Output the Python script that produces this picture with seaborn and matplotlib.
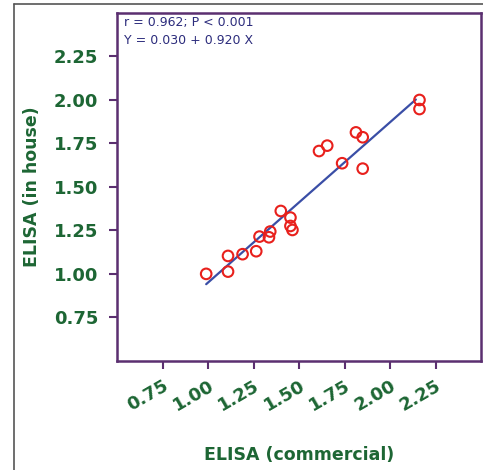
import numpy as np
import pandas as pd
import matplotlib
matplotlib.use("Agg")
import matplotlib.pyplot as plt
from matplotlib.lines import Line2D
import seaborn as sns

# Data
commercial = [0.99, 1.11, 1.11, 1.19, 1.265, 1.283, 1.335, 1.342, 1.40, 1.453,
              1.453, 1.464, 1.61, 1.655, 1.737, 1.813, 1.85, 1.85, 2.162, 2.162]
in_house = [1.00, 1.103, 1.013, 1.113, 1.13, 1.214, 1.21, 1.243, 1.361, 1.323,
            1.275, 1.252, 1.705, 1.736, 1.635, 1.812, 1.784, 1.604, 1.998, 1.946]
intercept = 0.030
slope = 0.920
ticks = [0.75, 1.00, 1.25, 1.50, 1.75, 2.00, 2.25]
tick_labels = ["0.75", "1.00", "1.25", "1.50", "1.75", "2.00", "2.25"]
stats_text = ["r = 0.962; P < 0.001", "Y = 0.030 + 0.920 X"]

sns.set_theme(style="white")
plt.rcParams['font.family'] = ['DejaVu Sans']

GREEN = "#1d6634"
PURPLE = "#5b2f70"
NAVY = "#2c2c7c"
RED = "#e8201c"
BLUE = "#3a4ea6"

df = pd.DataFrame({"commercial": commercial, "in_house": in_house})
xs = np.array([min(commercial), max(commercial) - 0.02])
line_df = pd.DataFrame({"x": xs, "y": intercept + slope * xs})

fig = plt.figure(figsize=(4.83, 4.70), dpi=100)
ax = fig.add_axes([117/483, 1 - 361/470, 364/483, 348.5/470])

sns.lineplot(data=line_df, x="x", y="y", ax=ax, color=BLUE, linewidth=1.6)
sns.scatterplot(data=df, x="commercial", y="in_house", ax=ax, marker="o", s=58,
                facecolor="none", edgecolor=RED, linewidth=1.5, zorder=3)

ax.set_xlim(0.5, 2.5)
ax.set_ylim(0.5, 2.5)
ax.set_xticks(ticks)
ax.set_yticks(ticks)
ax.set_xticklabels(tick_labels, rotation=30, ha="right", rotation_mode="anchor",
                   color=GREEN, fontsize=13, fontweight="bold")
ax.set_yticklabels(tick_labels, color=GREEN, fontsize=13, fontweight="bold")
ax.tick_params(axis="both", direction="out", length=5.5, width=1.5, color=PURPLE,
               bottom=True, left=True)
ax.tick_params(axis="y", pad=8)
ax.tick_params(axis="x", pad=6)
for sp in ax.spines.values():
    sp.set_color(PURPLE)
    sp.set_linewidth(1.8)

ax.set_xlabel("ELISA (commercial)", color=GREEN, fontsize=12.5, fontweight="bold")
ax.set_ylabel("ELISA (in house)", color=GREEN, fontsize=12.5, fontweight="bold")

ax.text(0.02, 0.99, stats_text[0] + "\n" + stats_text[1], transform=ax.transAxes,
        ha="left", va="top", color=NAVY, fontsize=9, linespacing=1.5)

# figure frame lines (gray) at left and top
fig.add_artist(Line2D([14/483, 14/483], [0, 1 - 4/470], transform=fig.transFigure,
                      color="#555555", linewidth=1.2))
fig.add_artist(Line2D([14/483, 1], [1 - 4/470, 1 - 4/470], transform=fig.transFigure,
                      color="#555555", linewidth=1.2))

ax.yaxis.set_label_coords(-0.21, 0.5)
ax.xaxis.set_label_coords(0.5, -0.245)

fig.savefig("out.png", dpi=100)
